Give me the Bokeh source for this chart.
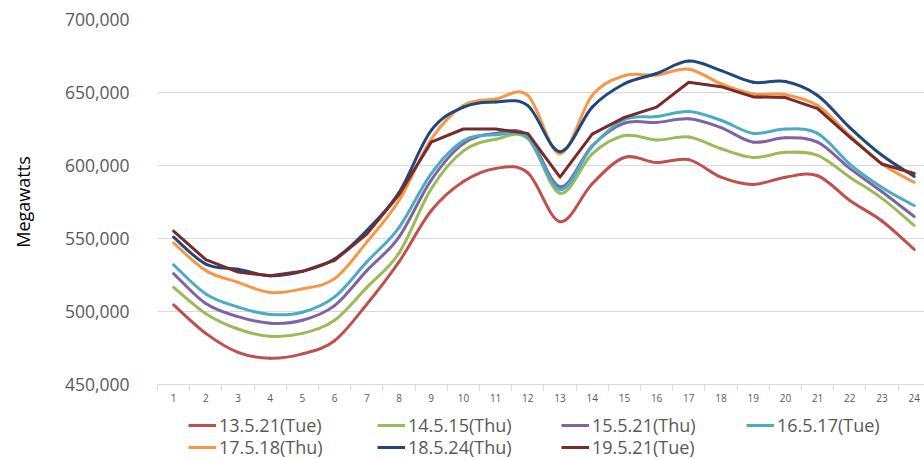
from bokeh.plotting import figure
from bokeh.layouts import column
from bokeh.models import Range1d, FixedTicker, Legend, LegendItem, NumeralTickFormatter, ColumnDataSource
from bokeh.embed import file_html
from bokeh.resources import INLINE

hours = [1, 2, 3, 4, 5, 6, 7, 8, 9, 10, 11, 12, 13, 14, 15, 16, 17, 18, 19, 20, 21, 22, 23, 24]
hour_labels = ["1", "2", "3", "4", "5", "6", "7", "8", "9", "10", "11", "12",
               "13", "14", "15", "16", "17", "18", "19", "20", "21", "22", "23", "24"]

s_13_5_21 = [504500, 485000, 472000, 468000, 471000, 480000, 505000, 534000, 569000, 589000, 598000, 595000,
             561500, 587500, 605500, 602000, 604000, 592000, 587000, 592000, 593000, 576000, 562000, 542500]
s_14_5_15 = [516500, 498500, 488000, 483000, 485000, 494000, 516500, 540000, 584000, 610000, 618000, 618500,
             581000, 608000, 620500, 617500, 619500, 611500, 605500, 609000, 607000, 592000, 577500, 559000]
s_15_5_21 = [526000, 505500, 496500, 492000, 494000, 504000, 528000, 551000, 590000, 615000, 622000, 620500,
             585500, 613500, 629000, 629500, 632000, 626000, 616000, 619000, 616000, 598000, 582000, 565000]
s_16_5_17 = [532000, 512000, 503000, 498000, 499500, 510000, 534000, 557500, 594500, 617000, 621000, 619000,
             583500, 613000, 631500, 633500, 637000, 631000, 622000, 625000, 622000, 601000, 585000, 572500]
s_17_5_18 = [547000, 528000, 520000, 513000, 515500, 522500, 547500, 576000, 618000, 641000, 645500, 648000,
             608000, 648000, 661500, 662000, 666000, 656000, 649000, 648500, 641000, 620500, 601000, 588500]
s_18_5_24 = [551000, 532500, 529000, 524500, 527500, 536000, 555500, 581500, 624000, 640000, 643500, 641000,
             609500, 640000, 656000, 663000, 671500, 665000, 657000, 657500, 648000, 626000, 607000, 592500]
s_19_5_21 = [555000, 535500, 527000, 524500, 527500, 535000, 553000, 580000, 616000, 625000, 625000, 622000,
             592000, 621500, 633000, 640000, 657000, 654000, 647000, 646500, 639000, 619500, 601000, 594500]

names = ["13.5.21(Tue)", "14.5.15(Thu)", "15.5.21(Thu)", "16.5.17(Tue)",
         "17.5.18(Thu)", "18.5.24(Thu)", "19.5.21(Tue)"]
series = [s_13_5_21, s_14_5_15, s_15_5_21, s_16_5_17, s_17_5_18, s_18_5_24, s_19_5_21]
colors = ["#C0504D", "#9BBB59", "#8064A2", "#4BACC6", "#F79646", "#1F497D", "#772C2A"]
smoothed = [True, True, True, True, True, True, False]

FONT = "Open Sans"
GRAY = "#595959"

p = figure(width=924, height=412, output_backend="svg", toolbar_location=None,
           x_range=Range1d(0.5, 24.32), y_range=Range1d(450000, 700000),
           min_border_left=157, min_border_top=19, min_border_bottom=28, min_border_right=0)
p.outline_line_color = None
p.background_fill_color = "white"
p.border_fill_color = "white"

p.xgrid.grid_line_color = None
p.ygrid.grid_line_color = "#d9d9d9"
p.ygrid.grid_line_width = 1
p.yaxis.ticker = FixedTicker(ticks=[450000, 500000, 550000, 600000, 650000, 700000])
p.yaxis.formatter = NumeralTickFormatter(format="0,0")
p.yaxis.axis_line_color = None
p.yaxis.major_tick_line_color = None
p.yaxis.minor_tick_line_color = None
p.yaxis.major_label_standoff = 22
p.yaxis.major_label_text_font = FONT
p.yaxis.major_label_text_font_size = "17.5px"
p.yaxis.major_label_text_color = GRAY
p.yaxis.axis_label = "Megawatts"
p.yaxis.axis_label_text_font = FONT
p.yaxis.axis_label_text_font_size = "18px"
p.yaxis.axis_label_text_font_style = "normal"
p.yaxis.axis_label_text_color = "#000000"
p.yaxis.axis_label_standoff = 27

p.xaxis.ticker = FixedTicker(ticks=hours, minor_ticks=[h - 0.5 for h in hours] + [24.5])
p.xaxis.major_label_overrides = {h: lab for h, lab in zip(hours, hour_labels)}
p.xaxis.axis_line_color = "#d9d9d9"
p.xaxis.major_tick_line_color = None
p.xaxis.major_tick_out = 0
p.xaxis.major_tick_in = 0
p.xaxis.minor_tick_line_color = "#d9d9d9"
p.xaxis.minor_tick_out = 6
p.xaxis.minor_tick_in = 0
p.xaxis.major_label_standoff = 3
p.xaxis.major_label_text_font = FONT
p.xaxis.major_label_text_font_size = "10px"
p.xaxis.major_label_text_color = GRAY


def bezier_source(xs, ys):
    n = len(xs)
    d = dict(x0=[], y0=[], x1=[], y1=[], cx0=[], cy0=[], cx1=[], cy1=[])
    for i in range(n - 1):
        a = i - 1 if i > 0 else i
        b = i + 2 if i + 2 < n else i + 1
        d["x0"].append(xs[i]); d["y0"].append(ys[i])
        d["x1"].append(xs[i + 1]); d["y1"].append(ys[i + 1])
        d["cx0"].append(xs[i] + (xs[i + 1] - xs[a]) / 6.0)
        d["cy0"].append(ys[i] + (ys[i + 1] - ys[a]) / 6.0)
        d["cx1"].append(xs[i + 1] - (xs[b] - xs[i]) / 6.0)
        d["cy1"].append(ys[i + 1] - (ys[b] - ys[i]) / 6.0)
    return ColumnDataSource(d)


for ys, col, sm in zip(series, colors, smoothed):
    if sm:
        p.bezier(x0="x0", y0="y0", x1="x1", y1="y1", cx0="cx0", cy0="cy0", cx1="cx1", cy1="cy1",
                 source=bezier_source(hours, ys), line_color=col, line_width=3, line_cap="round")
    else:
        p.line(x=hours, y=ys, line_color=col, line_width=3, line_join="round", line_cap="round")

# legend figure below the chart (one legend entry per grid cell: 4 columns, 2 rows)
lf = figure(width=924, height=47, output_backend="svg", toolbar_location=None,
            x_axis_type=None, y_axis_type=None, x_range=Range1d(0, 1), y_range=Range1d(0, 1),
            min_border=0, min_border_left=0, min_border_right=0, min_border_top=0, min_border_bottom=0)
lf.outline_line_color = None
lf.grid.grid_line_color = None

col_x = [31, 220, 404, 589]
row_y = [22, 0]
for i, (name, col) in enumerate(zip(names, colors)):
    r = lf.line(x=[-5, -4], y=[-5, -4], line_color=col, line_width=3)
    lg = Legend(items=[LegendItem(label=name, renderers=[r])],
                location=(col_x[i % 4], row_y[i // 4]), orientation="horizontal",
                label_text_font=FONT, label_text_font_size="18px", label_text_color=GRAY,
                glyph_width=28, glyph_height=20, label_standoff=3, spacing=0,
                padding=0, margin=0, border_line_color=None, background_fill_alpha=0)
    lf.add_layout(lg)

open("out.html", "w").write(file_html(column(p, lf, spacing=0), INLINE))
